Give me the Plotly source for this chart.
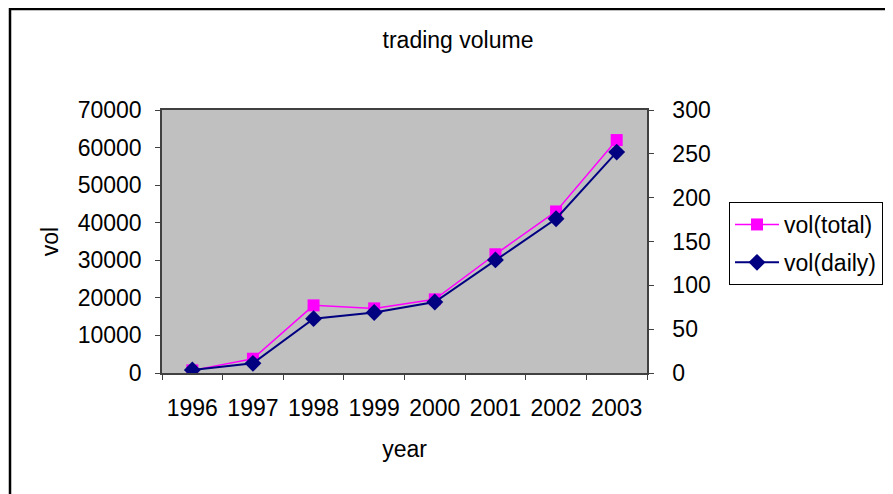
import plotly.graph_objects as go

years = ["1996", "1997", "1998", "1999", "2000", "2001", "2002", "2003"]
vol_total = [700, 3800, 18000, 17200, 19600, 31600, 43000, 62000]
vol_daily = [3.5, 11, 62, 69, 81, 129, 176, 252]
left_ticks = [0, 10000, 20000, 30000, 40000, 50000, 60000, 70000]
left_labels = ["0", "10000", "20000", "30000", "40000", "50000", "60000", "70000"]
right_ticks = [0, 50, 100, 150, 200, 250, 300]

# page body has an 8px margin; figure drawn at offset (8, 8)
OFF = 8
W, H = 893 - OFF, 494 - OFF
L, R, T, B = 162 - OFF, 647 - OFF, 110 - OFF, 373 - OFF
FONT = "Liberation Sans, Arial, sans-serif"
FS = 23

def px(x):
    return (x - OFF - L) / (R - L)

def py(y):
    return (B - (y - OFF)) / (B - T)

fig = go.Figure()
fig.add_trace(go.Scatter(
    x=years, y=vol_total, name="vol(total)", mode="lines+markers",
    line=dict(color="#FF00FF", width=1.5),
    marker=dict(symbol="square", size=12, color="#FF00FF"),
    yaxis="y", legendgroup="a",
))
fig.add_trace(go.Scatter(
    x=years, y=vol_daily, name="vol(daily)", mode="lines+markers",
    line=dict(color="#000080", width=2),
    marker=dict(symbol="diamond", size=13, color="#000080"),
    yaxis="y2", legendgroup="b",
))

fig.update_layout(
    width=W, height=H,
    margin=dict(l=L, r=W - R, t=T, b=H - B, autoexpand=False),
    paper_bgcolor="white",
    plot_bgcolor="#C0C0C0",
    font=dict(family=FONT, size=FS, color="black"),
    title=dict(text="trading volume", x=(458 - OFF) / W, xanchor="center",
               y=1 - (40 - OFF) / H, yanchor="middle",
               font=dict(family=FONT, size=FS, color="black")),
    showlegend=True,
    legend=dict(x=px(729), y=py(202), xanchor="left", yanchor="top",
                bordercolor="black", borderwidth=1, bgcolor="white",
                font=dict(family=FONT, size=FS),
                tracegroupgap=5, itemwidth=44),
    xaxis=dict(
        type="category", tickson="boundaries", ticks="outside", ticklen=5,
        tickcolor="#404040", showline=True, linecolor="#404040", linewidth=1.5,
        mirror=True, showgrid=False, ticklabelstandoff=14, tickangle=0,
        title=dict(text="year", standoff=21, font=dict(size=FS)),
        range=[-0.5, 7.5],
    ),
    yaxis=dict(
        range=[0, 70000], tickvals=left_ticks, ticktext=left_labels,
        ticks="outside", ticklen=5,
        tickcolor="#404040", showline=True, linecolor="#404040", linewidth=1.5,
        mirror=True, showgrid=False, zeroline=False, ticklabelstandoff=9,
        title=dict(text="vol", standoff=13, font=dict(size=FS)),
    ),
    yaxis2=dict(
        range=[0, 300], tickvals=right_ticks, ticks="outside", ticklen=5,
        tickcolor="#404040", overlaying="y", side="right", showline=True,
        linecolor="#404040", linewidth=1.5, showgrid=False, zeroline=False,
        ticklabelstandoff=14,
    ),
    shapes=[dict(type="rect", xref="paper", yref="paper",
                 x0=px(10), x1=px(893 + 40), y0=py(494 + 40), y1=py(9),
                 line=dict(color="black", width=2.5), layer="below")],
)

fig.write_html("out.html")
